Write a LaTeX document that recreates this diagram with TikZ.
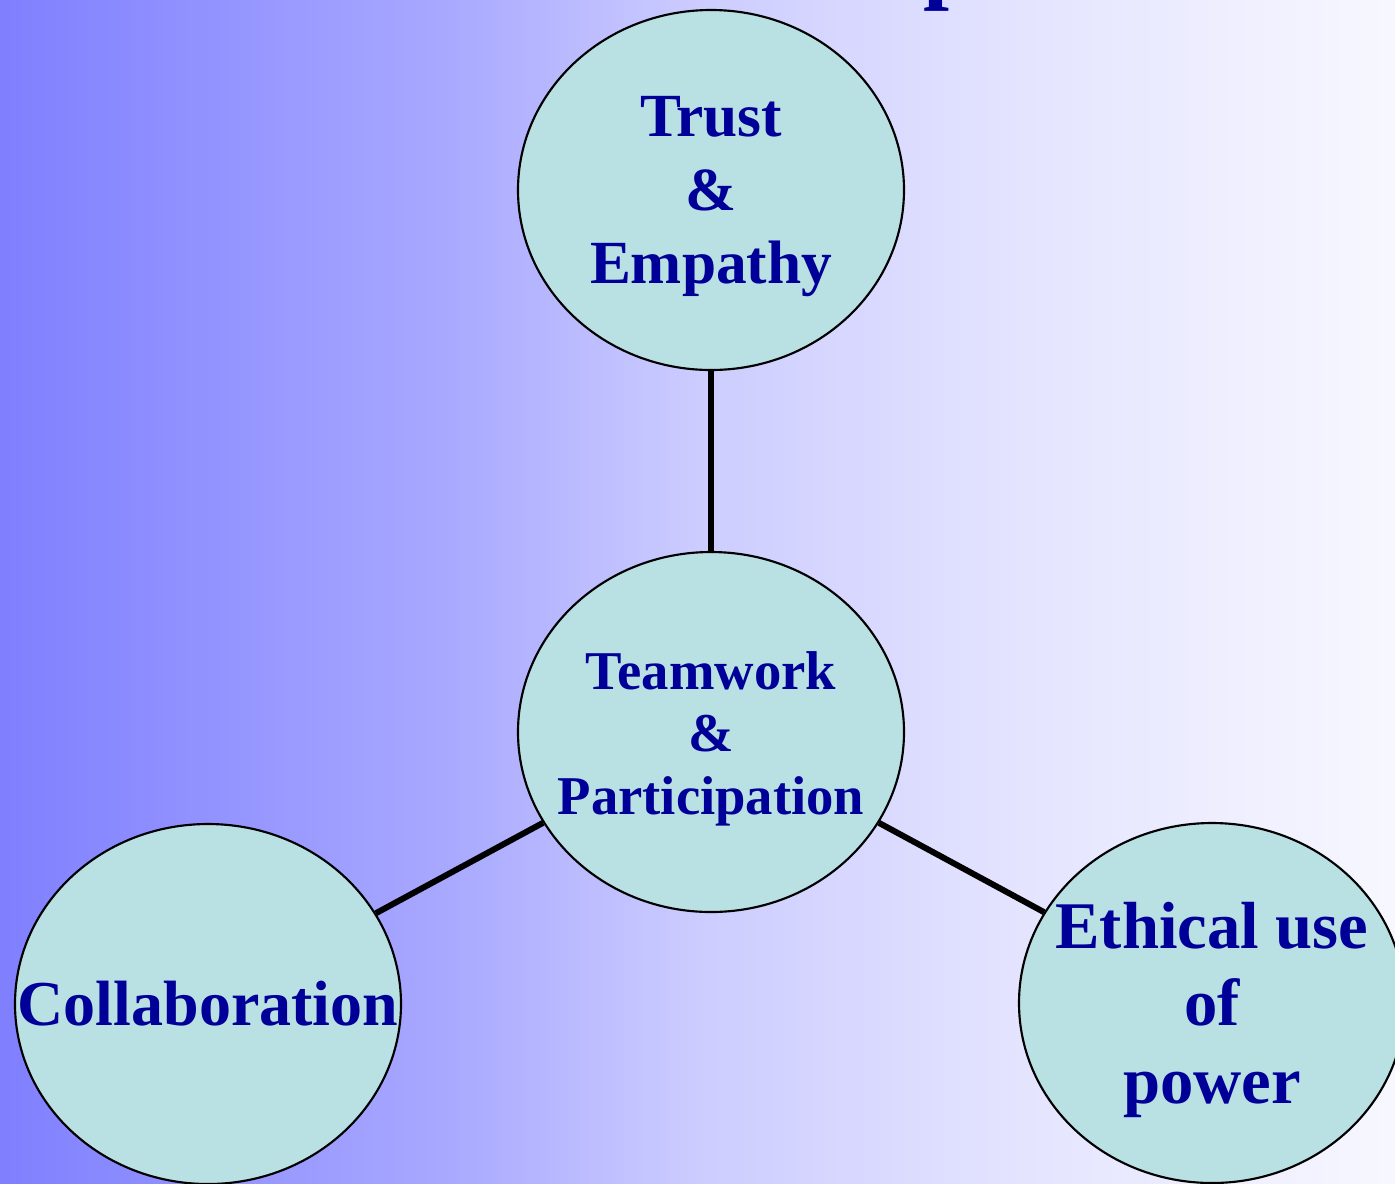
\documentclass[tikz,border=0pt]{standalone}
\usepackage{fontspec}
\setmainfont{Liberation Serif}
\usetikzlibrary{shapes.geometric}
\definecolor{bubblefill}{RGB}{185,224,226}
\definecolor{labelblue}{RGB}{0,0,153}
\pgfdeclarehorizontalshading{bgfade}{100bp}{rgb(0bp)=(0.5,0.5,1); rgb(25bp)=(0.5,0.5,1); rgb(41bp)=(0.66,0.66,1); rgb(50bp)=(0.8,0.8,1); rgb(61bp)=(0.89,0.89,1); rgb(75bp)=(0.97,0.97,1); rgb(100bp)=(0.97,0.97,1)}

\begin{document}
\begin{tikzpicture}[x=0.75pt,y=-0.75pt,
  bubble/.style={ellipse, draw=black, line width=1.6pt, fill=bubblefill, minimum width=289.5pt, minimum height=270pt, inner sep=0pt},
  bubbletext/.style={text=labelblue, align=center, inner sep=0pt, yshift=-5pt},
  link/.style={line width=4.5pt, black}]
\useasboundingbox (0,0) rectangle (1395,1183);
\shade[shading=bgfade] (0,0) rectangle (1395,1183);
\node[text=labelblue, inner sep=0pt, anchor=south west, font=\fontsize{70}{80}\selectfont\bfseries] (title) at (923,12) {p};

\node[bubble] (trust) at (711,190) {};
\node[bubble] (team) at (711,732) {};
\node[bubble] (collab) at (208,1004) {};
\node[bubble] (ethics) at (1212,1003) {};

\node[bubbletext, font=\fontsize{46}{55}\selectfont\bfseries] (trust text) at (trust) {Trust\\\&\\Empathy};
\node[bubbletext, font=\fontsize{41}{47}\selectfont\bfseries] (team text) at (team) {Teamwork\\\&\\Participation};
\node[bubbletext, font=\fontsize{48}{58}\selectfont\bfseries, yshift=5pt] (collab text) at (collab) {Collaboration};
\node[bubbletext, font=\fontsize{50}{58}\selectfont\bfseries] (ethics text) at (ethics) {Ethical use\\of\\power};

\draw[link] (team) -- (trust);
\draw[link] (team) -- (collab);
\draw[link] (team) -- (ethics);
\end{tikzpicture}
\end{document}
